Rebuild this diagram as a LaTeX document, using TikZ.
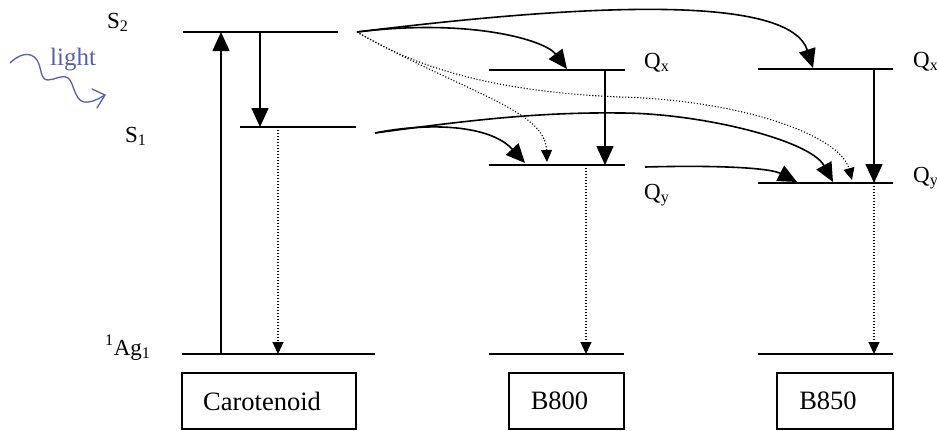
\documentclass[tikz,border=0pt]{standalone}
\usepackage{fontspec}
\setmainfont{Liberation Serif}
\usetikzlibrary{arrows.meta}
\definecolor{lightblue}{RGB}{85,95,175}
\tikzset{
  level/.style={line width=1.6pt},
  trans/.style={line width=1.6pt,-{Triangle[length=19pt,width=17pt]}},
  relax/.style={line width=1.1pt,dash pattern=on 1.1pt off 1.9pt,-{Triangle[length=12pt,width=11pt]}},
  lbl/.style={inner sep=0pt,anchor=base west,font=\fontsize{23}{27}\selectfont},
  box/.style={draw,line width=1.3pt,minimum height=56pt,inner sep=0pt,font=\fontsize{26.5}{30}\selectfont},
  wave/.style={lightblue,line width=1.3pt,line cap=round,line join=round}
}
\begin{document}
\begin{tikzpicture}[x=1pt,y=-1pt]
\useasboundingbox (0,0) rectangle (937,431);
% ---- coordinates: carotenoid
\coordinate (S2L) at (183,32);  \coordinate (S2R) at (338,32);
\coordinate (S1L) at (240,127); \coordinate (S1R) at (356,127);
\coordinate (AgL) at (182,354); \coordinate (AgR) at (375,354);
\coordinate (S2up) at (221,32); \coordinate (Agup) at (221,354);
\coordinate (S2dn) at (260,32); \coordinate (S1dn) at (260,127);
\coordinate (S1dot) at (278,127); \coordinate (Agdot) at (278,354);
\coordinate (S2out) at (357,32); \coordinate (S1out) at (375,133);
% ---- B800
\coordinate (XaL) at (489,70);  \coordinate (XaR) at (625,70);
\coordinate (YaL) at (489,165); \coordinate (YaR) at (625,165);
\coordinate (GaL) at (489,354); \coordinate (GaR) at (624,354);
\coordinate (Xadn) at (605,70); \coordinate (Yadn) at (605,165);
\coordinate (Yadot) at (586,165); \coordinate (Gadot) at (586,354);
\coordinate (Yaout) at (645,167);
\coordinate (XaIn) at (567,69);
\coordinate (YaIn1) at (525,163);
\coordinate (YaIn2) at (547,162);
% ---- B850
\coordinate (XbL) at (758,69);  \coordinate (XbR) at (893,69);
\coordinate (YbL) at (758,183); \coordinate (YbR) at (893,183);
\coordinate (GbL) at (758,354); \coordinate (GbR) at (893,354);
\coordinate (Xbdn) at (874,69); \coordinate (Ybdn) at (874,183);
\coordinate (Gbdot) at (874,354);
\coordinate (XbIn) at (813,68);
\coordinate (YbIn1) at (797,182);
\coordinate (YbIn2) at (833,182);
\coordinate (YbIn3) at (852,180);
% ---- levels
\draw[level] (S2L) -- (S2R);
\draw[level] (S1L) -- (S1R);
\draw[level] (AgL) -- (AgR);
\draw[level] (XaL) -- (XaR);
\draw[level] (YaL) -- (YaR);
\draw[level] (GaL) -- (GaR);
\draw[level] (XbL) -- (XbR);
\draw[level] (YbL) -- (YbR);
\draw[level] (GbL) -- (GbR);
% ---- vertical transitions
\draw[trans] (Agup) -- (S2up);
\draw[trans] (S2dn) -- (S1dn);
\draw[relax] (S1dot) -- (Agdot);
\draw[trans] (Xadn) -- (Yadn);
\draw[relax] (Yadot) -- (Gadot);
\draw[trans] (Xbdn) -- (Ybdn);
\draw[relax] (Ybdn) -- (Gbdot);
% ---- energy transfer curves
\draw[trans] (S2out) .. controls (470,18) and (545,40) .. (XaIn);
\draw[trans] (S2out) .. controls (600,2) and (790,-4) .. (XbIn);
\draw[relax] (S2out) .. controls (470,95) and (545,110) .. (YaIn2);
\draw[relax] (S2out) .. controls (420,70) and (500,92) .. (620,97)
                    .. controls (740,100) and (840,135) .. (YbIn3);
\draw[trans] (S1out) .. controls (430,122) and (490,125) .. (YaIn1);
\draw[trans] (S1out) .. controls (470,120) and (540,112) .. (620,113)
                    .. controls (700,113) and (810,140) .. (YbIn2);
\draw[trans] (Yaout) .. controls (720,165) and (770,168) .. (YbIn1);
% ---- labels
\node[lbl] (lS2) at (107,28) {S\textsubscript{2}};
\node[lbl] (lS1) at (125,142) {S\textsubscript{1}};
\node[lbl] (lAg) at (105,355) {\textsuperscript{1}Ag\textsubscript{1}};
\node[lbl] (lQxa) at (644,68) {Q\textsubscript{x}};
\node[lbl] (lQya) at (644,199) {Q\textsubscript{y}};
\node[lbl] (lQxb) at (913,67) {Q\textsubscript{x}};
\node[lbl] (lQyb) at (913,182) {Q\textsubscript{y}};
% ---- boxes
\node[box,minimum width=174pt] (car) at (269,401) {Carotenoid\hspace*{14pt}};
\node[box,minimum width=115pt] (b800) at (566.5,401) {B800\hspace*{14pt}};
\node[box,minimum width=116pt] (b850) at (835,401) {B850\hspace*{14pt}};
% ---- light
\node[inner sep=0pt,anchor=base west,text=lightblue,font=\fontsize{25}{29}\selectfont] (light) at (50,65) {light};
\draw[wave] (10,63) .. controls (18,55) and (30,50) .. (37,60)
  .. controls (42,68) and (40,80) .. (48,80)
  .. controls (55,80) and (62,74) .. (68,78)
  .. controls (74,82) and (74,100) .. (84,102)
  .. controls (92,103) and (100,98) .. (105,95);
\draw[wave] (92,89) -- (105,95) -- (97,108);
\end{tikzpicture}
\end{document}
